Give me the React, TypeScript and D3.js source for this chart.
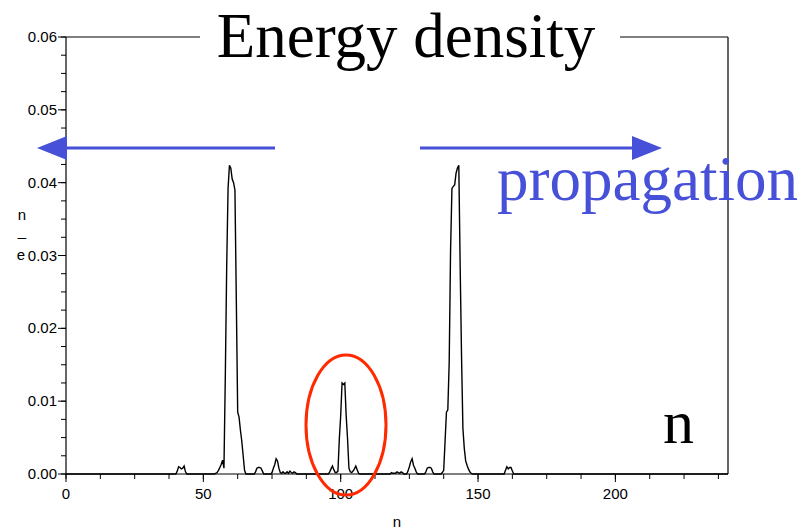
import React from "react";
import * as d3 from "d3";

const nValues: number[] = [
  0, 40, 40.5, 41, 41.5, 42, 42.5, 43, 43.5, 44,
  54, 54.5, 55, 55.5, 56, 56.5, 57, 57.5, 58, 58.5, 59, 59.5, 60, 60.5, 61, 61.5, 62, 62.5, 63, 63.5, 64, 64.5, 65, 65.5,
  68.5, 69, 69.5, 70, 70.5, 71, 71.5, 72,
  74.5, 75, 75.5, 76, 76.5, 77, 77.5, 78, 78.5, 79, 79.5, 80, 80.5, 81, 81.5, 82, 82.5, 83, 83.5, 84,
  95.5, 96, 96.5, 97, 97.5, 98, 98.5, 99, 99.5, 100, 100.5, 101, 101.5, 102, 102.5, 103, 103.5, 104, 104.5, 105, 105.5, 106, 106.5, 107,
  118, 118.5, 119, 120, 120.5, 121, 121.5, 122, 122.5, 123,
  124, 124.5, 125, 125.5, 126, 126.5, 127, 127.5, 128,
  130.5, 131, 131.5, 132, 132.5, 133, 133.5, 134,
  136.5, 137, 137.5, 138, 138.5, 139, 139.5, 140, 140.5, 141, 141.5, 142, 142.5, 143, 143.5, 144, 144.5, 145, 145.5, 146, 146.5, 147, 147.5, 148,
  159.5, 160, 160.5, 161, 161.5, 162, 162.5, 163, 241,
];

const energy: number[] = [
  0, 0, 0.0004, 0.001, 0.0009, 0.0007, 0.0008, 0.0011, 0.0003, 0,
  0, 0.0001, 0.0002, 0.0005, 0.0009, 0.0013, 0.0019, 0.0008, 0.0135, 0.0285, 0.0392, 0.0424, 0.042, 0.0405, 0.04, 0.039, 0.024, 0.0085, 0.0078, 0.006, 0.0045, 0.0025, 0.0005, 0,
  0, 0.0003, 0.0008, 0.0009, 0.0009, 0.0008, 0.0004, 0,
  0, 0.0002, 0.0008, 0.0013, 0.0021, 0.0018, 0.0008, 0.0002, 0.0001, 0.0003, 0.0001, 0.0001, 0.0003, 0.0001, 0.0004, 0.0002, 0.0001, 0.0003, 0.0002, 0,
  0, 0.0003, 0.0007, 0.0011, 0.0006, 0.0002, 0.0002, 0.0004, 0.0048, 0.008, 0.0125, 0.0123, 0.0125, 0.008, 0.0048, 0.0008, 0.0003, 0.0002, 0.0004, 0.0007, 0.0011, 0.0006, 0.0001, 0,
  0, 0.0002, 0.0001, 0.0001, 0.0003, 0.0002, 0.0001, 0.0003, 0.0002, 0,
  0, 0.0004, 0.001, 0.0017, 0.0021, 0.0012, 0.0008, 0.0003, 0,
  0, 0.0003, 0.0008, 0.0009, 0.0009, 0.0008, 0.0003, 0,
  0, 0.0002, 0.0005, 0.0045, 0.0085, 0.0088, 0.0153, 0.0307, 0.0392, 0.0395, 0.0397, 0.0413, 0.042, 0.0424, 0.0284, 0.016, 0.0062, 0.0035, 0.0018, 0.0012, 0.0007, 0.0003, 0.0001, 0,
  0, 0.0005, 0.001, 0.0007, 0.0009, 0.0009, 0.0004, 0, 0,
];

const xMajorTicks: number[] = [0, 50, 100, 150, 200];
const xTickLabels: string[] = ["0", "50", "100", "150", "200"];
const yMajorTicks: number[] = [0, 0.01, 0.02, 0.03, 0.04, 0.05, 0.06];
const yTickLabels: string[] = ["0.00", "0.01", "0.02", "0.03", "0.04", "0.05", "0.06"];
const xMinorStep = 12.5;
const yMinorStep = 0.0025;

const titleText = "Energy density";
const propText = "propagation";
const nText = "n";
const xAxisLabel = "n";

export default function App() {
  const W = 804, H = 532;
  const x = d3.scaleLinear().domain([0, 241]).range([66, 728]);
  const y = d3.scaleLinear().domain([0, 0.06]).range([474, 37]);

  const pts = nValues.map((n, i) => [n, energy[i]] as [number, number]);
  const line = d3.line<[number, number]>().x((d) => x(d[0])).y((d) => y(d[1]));

  const xMinor = d3.range(0, 241, xMinorStep);
  const yMinor = d3.range(0, 0.06 + 1e-9, yMinorStep);

  const blue = "#4650d8";
  const axisFont = "'Liberation Sans', Arial, sans-serif";
  const serif = "'Liberation Serif', 'Times New Roman', serif";

  const x0 = x(0), x1 = x(241), yb = y(0), yt = y(0.06);

  return (
    <svg width={W} height={H} style={{ position: "absolute", left: 0, top: 0, background: "#fff" }}>
      <rect x={0} y={0} width={W} height={H} fill="#fff" />
      <g stroke="#000" strokeWidth={1.2} fill="none">
        <line x1={x0} y1={yt} x2={x0} y2={yb} />
        <line x1={x0} y1={yb} x2={x1} y2={yb} />
        <line x1={x1} y1={yt} x2={x1} y2={yb} />
        <line x1={x0} y1={yt} x2={200} y2={yt} />
        <line x1={620} y1={yt} x2={x1} y2={yt} />
      </g>
      <g stroke="#000" strokeWidth={1}>
        {yMinor.map((v, i) => (
          <line key={"ym" + i} x1={x0 - 5} y1={y(v)} x2={x0} y2={y(v)} />
        ))}
        {yMajorTicks.map((v, i) => (
          <line key={"yM" + i} x1={x0 - 8} y1={y(v)} x2={x0} y2={y(v)} />
        ))}
        {xMinor.map((v, i) => (
          <line key={"xm" + i} x1={x(v)} y1={yb} x2={x(v)} y2={yb + 5} />
        ))}
        {xMajorTicks.map((v, i) => (
          <line key={"xM" + i} x1={x(v)} y1={yb} x2={x(v)} y2={yb + 8} />
        ))}
      </g>
      <g fontFamily={axisFont} fontSize={15} fill="#000">
        {yMajorTicks.map((v, i) => (
          <text key={"yl" + i} x={x0 - 9} y={y(v) + 5} textAnchor="end">{yTickLabels[i]}</text>
        ))}
        {xMajorTicks.map((v, i) => (
          <text key={"xl" + i} x={x(v)} y={499} textAnchor="middle">{xTickLabels[i]}</text>
        ))}
        <text x={397} y={527} textAnchor="middle">{xAxisLabel}</text>
        <text x={22} y={220} textAnchor="middle">n</text>
        <text x={22} y={236} textAnchor="middle">_</text>
        <text x={21} y={260} textAnchor="middle">e</text>
      </g>
      <path d={line(pts) || ""} fill="none" stroke="#000" strokeWidth={1.4} strokeLinejoin="miter" />
      <text x={406} y={57} textAnchor="middle" fontFamily={serif} fontSize={63} fill="#000">{titleText}</text>
      <g stroke={blue} strokeWidth={3.2}>
        <line x1={275} y1={148} x2={60} y2={148} />
        <line x1={420} y1={148} x2={640} y2={148} />
      </g>
      <polygon points={`37,148 67,136 67,160`} fill={blue} />
      <polygon points={`662,148 632,136 632,160`} fill={blue} />
      <text x={497} y={200} fontFamily={serif} fontSize={63} fill={blue}>{propText}</text>
      <text x={663} y={443} fontFamily={serif} fontSize={62} fill="#000">{nText}</text>
      <ellipse cx={346} cy={425} rx={40} ry={70} fill="none" stroke="#ff2a00" strokeWidth={3} />
    </svg>
  );
}
